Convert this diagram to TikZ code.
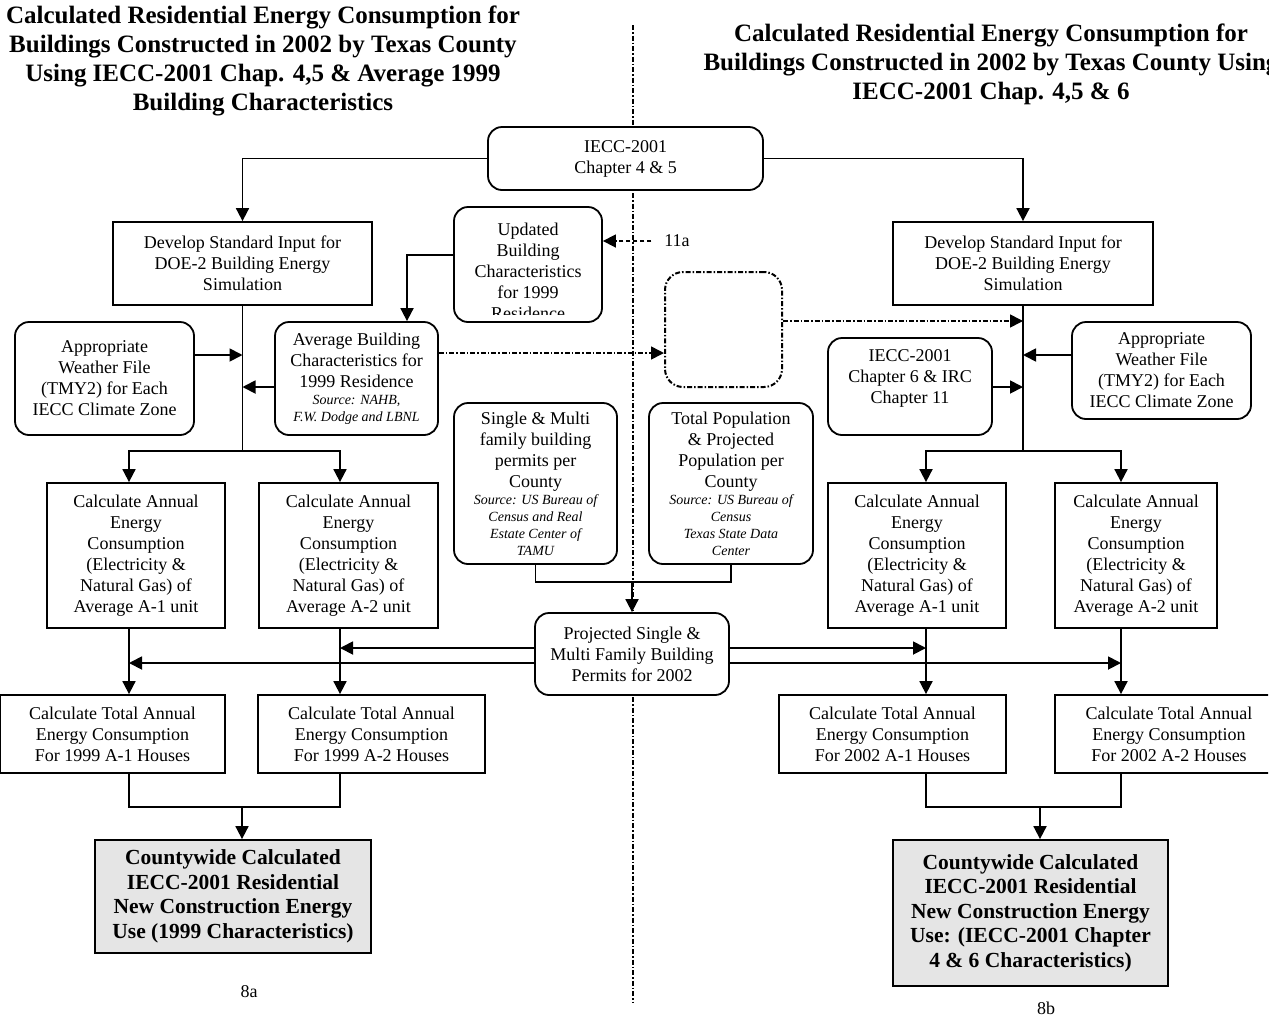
\documentclass[tikz,border=0pt]{standalone}
\usepackage{fontspec}
\setmainfont{Liberation Serif}
\usetikzlibrary{arrows.meta,calc}
\newcommand\srcf{\fontsize{14}{17}\selectfont\itshape}
\begin{document}
\begin{tikzpicture}[x=1pt,y=-1pt,line width=1.8pt,
  every node/.style={inner sep=0pt},
  bodyf/.style={font=\fontsize{18}{21}\selectfont},
  ttl/.style={align=center,font=\bfseries\fontsize{25}{29}\selectfont},
  sq/.style={draw,fill=white,align=center,bodyf},
  rb/.style={sq,rounded corners=14pt},
  cbox/.style={draw,fill=black!10,align=center,font=\bfseries\fontsize{21.5}{24.5}\selectfont},
  arr/.style={-{Triangle[length=13pt,width=13pt]}},
  dd/.style={line width=1.6pt,dash pattern=on 5pt off 2pt on 1.5pt off 2pt},
  ds/.style={line width=1.6pt,dash pattern=on 4pt off 3pt}]
\fill[white] (0,0) rectangle (1285,1018);
\useasboundingbox (0,0) rectangle (1285,1018);
\begin{scope}
\clip (0,0) rectangle (1268,1018);
% titles
\node[ttl] (titL) at (263,61) {Calculated Residential Energy Consumption for\\Buildings Constructed in 2002 by Texas County\\Using IECC-2001 Chap. 4,5 \& Average 1999\\Building Characteristics};
\node[ttl] (titR) at (991,64) {Calculated Residential Energy Consumption for\\Buildings Constructed in 2002 by Texas County Using\\IECC-2001 Chap. 4,5 \& 6};
% divider
\coordinate (divT) at (633,25);
\coordinate (divB) at (633,1003);
\draw[dd] (divT) -- (divB);
% boxes
\node[rb,minimum width=275pt,minimum height=63pt] (iecc) at (625.5,158.5) {IECC-2001\\Chapter 4 \& 5};
\node[sq,minimum width=259pt,minimum height=83pt] (devL) at (242.5,263.5) {Develop Standard Input for\\DOE-2 Building Energy\\Simulation};
\node[sq,minimum width=260pt,minimum height=83pt] (devR) at (1023,263.5) {Develop Standard Input for\\DOE-2 Building Energy\\Simulation};
\node[rb,minimum width=148pt,minimum height=115pt] (upd) at (528,264.5) {};
\begin{scope}
\clip (456,209) rectangle (600,314);
\node[bodyf,align=center] (updt) at (528,271) {Updated\\Building\\Characteristics\\for 1999\\Residence};
\end{scope}
\node[bodyf,inner xsep=12pt] (l11a) at (677,241) {11a};
\node[rb,align=flush center,minimum width=163pt,minimum height=113pt,text width=160pt] (avg) at (356.5,378.5) {Average Building\\Characteristics for\\1999 Residence\par\srcf Source: NAHB,\\F.W. Dodge and LBNL\par};
\node[rb,minimum width=179pt,minimum height=113pt] (wL) at (104.5,378.5) {Appropriate\\Weather File\\(TMY2) for Each\\IECC Climate Zone};
\node[draw,fill=white,rounded corners=18pt,line width=2pt,dash pattern=on 5pt off 2pt on 1.5pt off 2pt,minimum width=117pt,minimum height=115pt] (dotb) at (723.5,329.5) {};
\node[rb,minimum width=164pt,minimum height=97pt] (ch6) at (910,386.5) {};
\node[bodyf,align=center] (ch6t) at (910,378) {IECC-2001\\Chapter 6 \& IRC\\Chapter 11};
\node[rb,minimum width=179pt,minimum height=97pt] (wR) at (1161.5,370.5) {Appropriate\\Weather File\\(TMY2) for Each\\IECC Climate Zone};
\node[rb,align=flush center,minimum width=163pt,minimum height=161pt,text width=160pt] (single) at (535.5,483.5) {Single \& Multi\\family building\\permits per\\County\par\srcf Source: US Bureau of\\Census and Real\\Estate Center of\\TAMU\par};
\node[rb,align=flush center,minimum width=164pt,minimum height=161pt,text width=160pt] (total) at (731,483.5) {Total Population\\\& Projected\\Population per\\County\par\srcf Source: US Bureau of\\Census\\Texas State Data\\Center\par};
\node[rb,minimum width=194pt,minimum height=82pt] (proj) at (632,654) {Projected Single \&\\Multi Family Building\\Permits for 2002};
\node[sq,minimum width=178pt,minimum height=145pt] (aL1) at (136,555.5) {Calculate Annual\\Energy\\Consumption\\(Electricity \&\\Natural Gas) of\\Average A-1 unit};
\node[sq,minimum width=179pt,minimum height=145pt] (aL2) at (348.5,555.5) {Calculate Annual\\Energy\\Consumption\\(Electricity \&\\Natural Gas) of\\Average A-2 unit};
\node[sq,minimum width=178pt,minimum height=145pt] (aR1) at (917,555.5) {Calculate Annual\\Energy\\Consumption\\(Electricity \&\\Natural Gas) of\\Average A-1 unit};
\node[sq,minimum width=162pt,minimum height=145pt] (aR2) at (1136,555.5) {Calculate Annual\\Energy\\Consumption\\(Electricity \&\\Natural Gas) of\\Average A-2 unit};
\node[sq,minimum width=225pt,minimum height=78pt] (tL1) at (112.5,734) {Calculate Total Annual\\Energy Consumption\\For 1999 A-1 Houses};
\node[sq,minimum width=227pt,minimum height=78pt] (tL2) at (371.5,734) {Calculate Total Annual\\Energy Consumption\\For 1999 A-2 Houses};
\node[sq,minimum width=227pt,minimum height=78pt] (tR1) at (892.5,734) {Calculate Total Annual\\Energy Consumption\\For 2002 A-1 Houses};
\node[sq,minimum width=228pt,minimum height=78pt] (tR2) at (1169,734) {Calculate Total Annual\\Energy Consumption\\For 2002 A-2 Houses};
\node[cbox,minimum width=276pt,minimum height=113pt] (cL) at (233,896.5) {Countywide Calculated\\IECC-2001 Residential\\New Construction Energy\\Use (1999 Characteristics)};
\node[cbox,minimum width=275pt,minimum height=146pt] (cR) at (1030.5,913) {Countywide Calculated\\IECC-2001 Residential\\New Construction Energy\\Use: (IECC-2001 Chapter\\4 \& 6 Characteristics)};
\node[bodyf] (n8a) at (249,992) {8a};
\node[bodyf] (n8b) at (1046,1008) {8b};
% helper coordinates
\coordinate (jL) at (242.5,451);
\coordinate (jR) at (1023,451);
\coordinate (colL1) at (129,451);
\coordinate (colL2) at (340,451);
\coordinate (colR1) at (926,451);
\coordinate (colR2) at (1121,451);
\coordinate (jP) at (632,582);
\coordinate (mL) at (242,807);
\coordinate (mR) at (1040,807);
% connectors
\draw[arr] (iecc.west) -| (devL.north);
\draw[arr] (iecc.east) -| (devR.north);
\draw (devL.south) -- (jL);
\draw[arr] (jL) -| (aL1.north -| colL1);
\draw[arr] (jL) -| (aL2.north -| colL2);
\draw (devR.south) -- (jR);
\draw[arr] (jR) -| (aR1.north -| colR1);
\draw[arr] (jR) -| (aR2.north -| colR2);
\draw[arr] (wL.east |- 0,355) -- (jL |- 0,355);
\draw[arr] (avg.west |- 0,387) -- (jL |- 0,387);
\draw[arr] (upd.west |- 0,255) -| (avg.north -| 407,0);
\draw[ds,arr] (l11a.west) -- (upd.east |- l11a.west);
\draw[dd,arr] (avg.east |- 0,353) -- (dotb.west |- 0,353);
\draw[dd,arr] (dotb.east |- 0,321) -- (jR |- 0,321);
\draw[arr] (ch6.east |- 0,387) -- (jR |- 0,387);
\draw[arr] (wR.west |- 0,355) -- (jR |- 0,355);
\draw (single.south) |- (jP);
\draw (total.south) |- (jP);
\draw[arr] (jP) -- (proj.north);
\draw[arr] (proj.west |- 0,648) -- (colL2 |- 0,648);
\draw[arr] (proj.west |- 0,663) -- (colL1 |- 0,663);
\draw[arr] (proj.east |- 0,648) -- (colR1 |- 0,648);
\draw[arr] (proj.east |- 0,663) -- (colR2 |- 0,663);
\draw[arr] (aL1.south -| colL1) -- (tL1.north -| colL1);
\draw[arr] (aL2.south -| colL2) -- (tL2.north -| colL2);
\draw[arr] (aR1.south -| colR1) -- (tR1.north -| colR1);
\draw[arr] (aR2.south -| colR2) -- (tR2.north -| colR2);
\draw (tL1.south -| colL1) |- (mL) -| (tL2.south -| colL2);
\draw[arr] (mL) -- (cL.north -| mL);
\draw (tR1.south -| colR1) |- (mR) -| (tR2.south -| colR2);
\draw[arr] (mR) -- (cR.north -| mR);
\end{scope}
\end{tikzpicture}
\end{document}
